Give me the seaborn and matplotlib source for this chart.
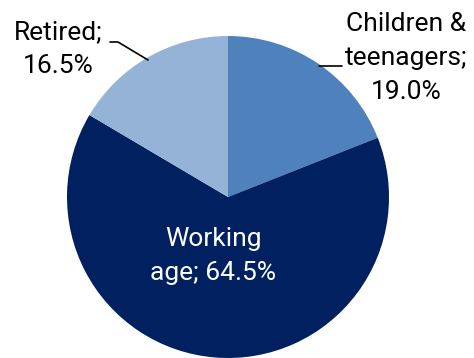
import matplotlib
matplotlib.use("Agg")
import matplotlib.pyplot as plt
import seaborn as sns

categories = ["Children &\nteenagers", "Working\nage", "Retired"]
values = [19.0, 64.5, 16.5]
colors = ["#4F81BD", "#002060", "#95B3D7"]

sns.set_theme(style="white")
plt.rcParams["font.family"] = ["Roboto", "DejaVu Sans"]

W, H = 474, 358
fig = plt.figure(figsize=(W / 100, H / 100), dpi=100)
cx, cy, r = 228, 197, 161
ax = fig.add_axes([(cx - r) / W, (H - cy - r) / H, 2 * r / W, 2 * r / H])
ax.pie(values, colors=colors, startangle=90, counterclock=False, radius=1,
       wedgeprops=dict(linewidth=0))
ax.set_xlim(-1, 1)
ax.set_ylim(-1, 1)
ax.set_aspect("equal")
ax.axis("off")

def d(px, py):
    return ((px - cx) / r, (cy - py) / r)

fs = 19
ls = 1.55
# Children & teenagers
ax.text(*d(406, 58), f"Children &\nteenagers;\n{values[0]:.1f}%", ha="center", va="center",
        fontsize=fs, color="black", linespacing=ls, clip_on=False)
ax.plot(*zip(d(319, 66), d(342, 66)), color="black", lw=1.2, clip_on=False)
# Working age
ax.text(*d(213, 256), f"Working\nage; {values[1]:.1f}%", ha="center", va="center",
        fontsize=fs, color="white", linespacing=ls)
# Retired
ax.text(*d(58, 49), f"Retired;\n{values[2]:.1f}%", ha="center", va="center",
        fontsize=fs, color="black", linespacing=ls, clip_on=False)
ax.plot(*zip(d(110, 42), d(118, 42), d(148, 60)), color="black", lw=1.2, clip_on=False)

fig.savefig("out.png", dpi=100)
